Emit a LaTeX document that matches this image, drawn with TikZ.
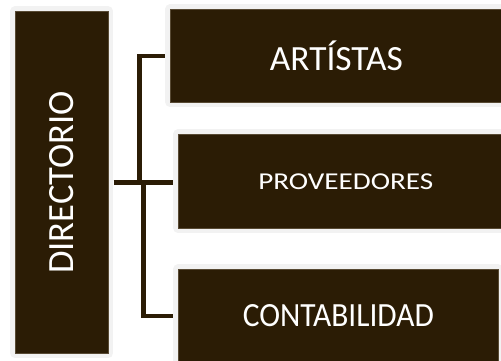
\documentclass[tikz,border=0pt]{standalone}
\usepackage{fontspec}
\setmainfont{Carlito}
\usetikzlibrary{calc}
\definecolor{darkbox}{RGB}{43,28,5}
\definecolor{edgebox}{RGB}{88,74,52}
\definecolor{framegray}{RGB}{242,242,242}
\begin{document}
\begin{tikzpicture}[x=1pt,y=-1pt,
  box/.style={fill=darkbox, draw=edgebox, line width=0.6pt, inner sep=0pt,
    anchor=north west, text=white,
    preaction={draw=framegray, line width=10pt, line join=round}},
  conn/.style={draw=darkbox, line width=4.6pt, line join=miter}]
\useasboundingbox (0,0) rectangle (501,360);
\clip (0,0) rectangle (501,360);
\node[box, minimum width=93pt, minimum height=342pt] (dir) at (15,11)
  {\rotatebox{90}{\resizebox{183pt}{24pt}{DIRECTORIO}}};
\node[box, minimum width=332pt, minimum height=93pt] (art) at (170,9)
  {\resizebox{133pt}{!}{ARTÍSTAS}};
\node[box, minimum width=335pt, minimum height=94pt] (pro) at (178,134)
  {\resizebox{175pt}{15.7pt}{PROVEEDORES}};
\node[box, minimum width=320pt, minimum height=93pt] (con) at (178,269)
  {\resizebox{191pt}{22pt}{CONTABILIDAD}};
\coordinate (j1) at (139.5,182);
\coordinate (j2) at (143.5,182);
\draw[conn, shorten <=5pt, shorten >=5pt] (dir.east) -- (dir.east -| pro.west);
\draw[conn, shorten >=5pt] (j1) |- (art.west);
\draw[conn, shorten >=5pt] (j2) |- (con.west);
\end{tikzpicture}
\end{document}
